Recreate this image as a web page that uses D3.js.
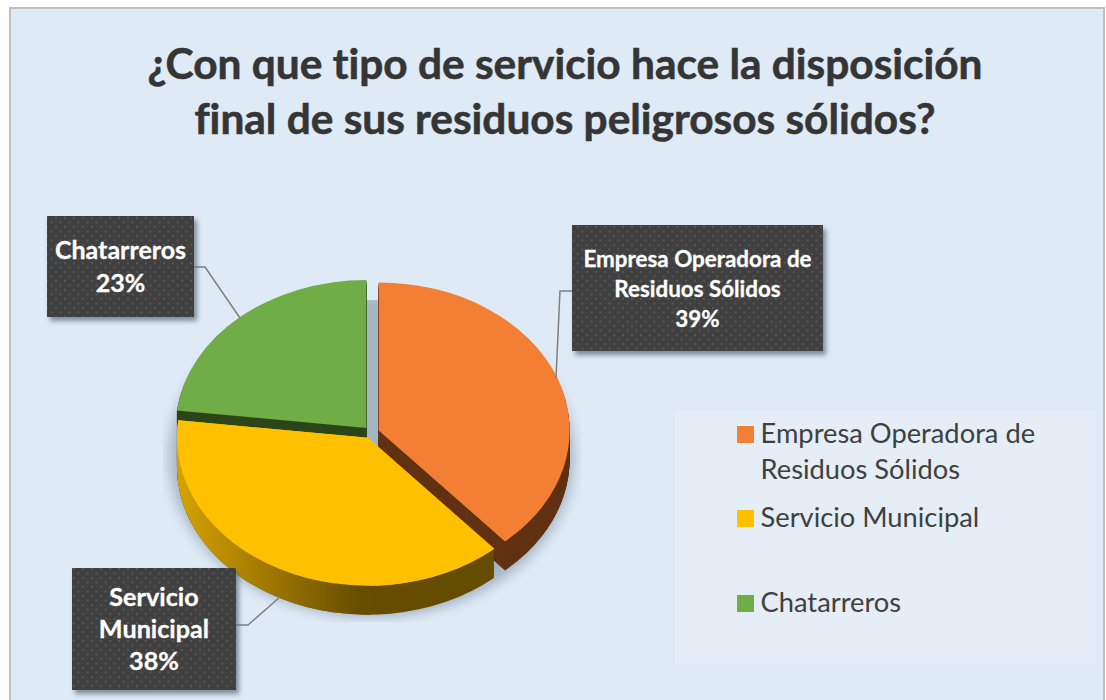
<!DOCTYPE html>
<html>
<head>
<meta charset="utf-8">
<script src="https://cdn.jsdelivr.net/npm/d3@7"></script>
<style>
  html, body { margin: 0; padding: 0; background: #fff; overflow: hidden; }
  svg { display: block; }
  text { font-family: Lato, "Open Sans", sans-serif; font-variant-ligatures: none; }
</style>
</head>
<body>
<div id="chart"></div>
<script>
var categories = ["Empresa Operadora de Residuos Sólidos", "Servicio Municipal", "Chatarreros"];
var percents = [38.5, 38.4, 23.1];
var sliceColors = ["#f27f33", "#ffc000", "#70ad47"];
var sideColors = ["#613213", "#664d00", "#2c4619"];
var titleLines = ["¿Con que tipo de servicio hace la disposición", "final de sus residuos peligrosos sólidos?"];
var legendLines = [["Empresa Operadora de", "Residuos Sólidos"], ["Servicio Municipal"], ["Chatarreros"]];
var labelLines = [["Empresa Operadora de", "Residuos Sólidos"], ["Servicio", "Municipal"], ["Chatarreros"]];

var w = 1106, h = 700;
var svg = d3.select("#chart").append("svg").attr("width", w).attr("height", h);
var defs = svg.append("defs");

// chart frame
svg.append("rect").attr("x", 10).attr("y", 8).attr("width", 1094).attr("height", 700)
    .attr("fill", "#deeaf6").attr("stroke", "#bfbfbf").attr("stroke-width", 2);

// title
svg.append("g").selectAll("text")
    .data(titleLines).enter().append("text")
    .attr("x", 565)
    .attr("y", function (d, i) { return 79 + i * 55; })
    .attr("text-anchor", "middle")
    .attr("font-size", 42.4)
    .attr("font-weight", 700)
    .attr("fill", "#353535")
    .attr("stroke", "#353535")
    .attr("stroke-width", 0.6)
    .text(function (d) { return d; });

// pie settings, the picture is tilted so y gets squeezed
var cx = 371.5, cy = 432.5, rx = 191, ry = 148, depth = 29, explode = 7.7;
var tilt = ry / rx;

var pie = d3.pie().sort(null).value(function (d) { return d; });
var arcs = pie(percents);
var arc = d3.arc().innerRadius(0).outerRadius(rx);
var color = d3.scaleOrdinal().domain(categories).range(sliceColors);

function offset(d) {
    var mid = (d.startAngle + d.endAngle) / 2;
    return [Math.sin(mid) * explode, -Math.cos(mid) * explode * tilt];
}

// soft shadow behind the pie, cut off like the picture effect in the original
defs.append("filter").attr("id", "blur")
    .attr("x", "-20%").attr("y", "-20%").attr("width", "140%").attr("height", "140%")
    .append("feGaussianBlur").attr("stdDeviation", 6);
defs.append("clipPath").attr("id", "shadowClip")
    .append("rect").attr("x", 163).attr("y", 300).attr("width", 418).attr("height", 322);
svg.append("g").attr("clip-path", "url(#shadowClip)")
    .append("path")
    .attr("d", d3.arc().innerRadius(0).outerRadius(rx)({startAngle: 0, endAngle: 2 * Math.PI}))
    .attr("transform", "translate(" + cx + "," + (cy + 24) + ") scale(1.06," + tilt * 1.09 + ")")
    .attr("fill", "#a6b5c4")
    .attr("filter", "url(#blur)");

// yellow wall shades from light on the left to dark in the middle
var wall = defs.append("linearGradient").attr("id", "yellowWall")
    .attr("gradientUnits", "userSpaceOnUse")
    .attr("x1", 176).attr("x2", 360).attr("y1", 0).attr("y2", 0);
wall.append("stop").attr("offset", 0).attr("stop-color", "#d6a300");
wall.append("stop").attr("offset", 0.45).attr("stop-color", "#a67c00");
wall.append("stop").attr("offset", 1).attr("stop-color", "#664d00");

var order = [2, 0, 1]; // back to front
var pieG = svg.append("g");
order.forEach(function (k) {
    var d = arcs[k], o = offset(d);
    var g = pieG.append("g").attr("transform", "translate(" + (cx + o[0]) + "," + (cy + o[1]) + ")");
    // wall: the slice repeated downwards
    var dy = d3.range(depth, 0, -1);
    g.selectAll("path.side").data(dy).enter().append("path")
        .attr("class", "side")
        .attr("d", arc(d))
        .attr("transform", function (t) { return "translate(0," + t + ") scale(1," + tilt + ")"; })
        .attr("fill", sideColors[k]);
    g.append("path")
        .attr("d", arc(d))
        .attr("transform", "scale(1," + tilt + ")")
        .attr("fill", color(categories[k]));
});

// yellow wall gradient on top of the flat repeats
var yellow = arcs[1], yo = offset(yellow);
var wallClip = defs.append("clipPath").attr("id", "yellowClip");
d3.range(depth, 0, -1).forEach(function (t) {
    wallClip.append("path")
        .attr("d", arc(yellow))
        .attr("transform", "translate(" + (cx + yo[0]) + "," + (cy + yo[1] + t) + ") scale(1," + tilt + ")");
});
svg.append("rect").attr("x", 170).attr("y", 420).attr("width", 200).attr("height", 200)
    .attr("fill", "url(#yellowWall)").attr("clip-path", "url(#yellowClip)");
svg.append("path")
    .attr("d", arc(yellow))
    .attr("transform", "translate(" + (cx + yo[0]) + "," + (cy + yo[1]) + ") scale(1," + tilt + ")")
    .attr("fill", color(categories[1]));

// data labels: dark dotted box with a small shadow
var dots = defs.append("pattern").attr("id", "dots")
    .attr("width", 9).attr("height", 9).attr("patternUnits", "userSpaceOnUse");
dots.append("rect").attr("width", 9).attr("height", 9).attr("fill", "#404040");
dots.append("rect").attr("x", 1).attr("y", 1).attr("width", 2).attr("height", 2).attr("fill", "#555555");
dots.append("rect").attr("x", 5.5).attr("y", 5.5).attr("width", 2).attr("height", 2).attr("fill", "#555555");
defs.append("filter").attr("id", "boxShadow")
    .attr("x", "-10%").attr("y", "-10%").attr("width", "125%").attr("height", "125%")
    .append("feDropShadow").attr("dx", 3).attr("dy", 4).attr("stdDeviation", 2.5)
    .attr("flood-color", "#5c6d7e").attr("flood-opacity", 0.75);

var boxes = [
    {k: 0, x: 572, y: 225, w: 251, h: 126, size: 22.4, base: 267, step: 30, leader: [[572, 291], [560, 291], [556, 378]]},
    {k: 1, x: 72, y: 568, w: 164, h: 122, size: 25.2, base: 606, step: 32, leader: [[236, 625], [248, 625], [280, 597]]},
    {k: 2, x: 47, y: 216, w: 147, h: 101, size: 25, base: 259, step: 33, leader: [[194, 267], [205, 267], [240, 318]]}
];
var line = d3.line();
boxes.forEach(function (b) {
    svg.append("path").attr("d", line(b.leader)).attr("fill", "none")
        .attr("stroke", "#7f7f7f").attr("stroke-width", 1.5);
    svg.append("rect").attr("x", b.x).attr("y", b.y).attr("width", b.w).attr("height", b.h)
        .attr("fill", "url(#dots)").attr("filter", "url(#boxShadow)");
    var lines = labelLines[b.k].concat(Math.round(percents[b.k]) + "%");
    svg.append("g").selectAll("text").data(lines).enter().append("text")
        .attr("x", b.x + b.w / 2)
        .attr("y", function (d, i) { return b.base + i * b.step; })
        .attr("text-anchor", "middle")
        .attr("font-size", b.size)
        .attr("font-weight", 700)
        .attr("fill", "#ffffff")
        .attr("stroke", "#ffffff")
        .attr("stroke-width", 0.3)
        .text(function (d) { return d; });
});

// legend
svg.append("rect").attr("x", 675).attr("y", 410).attr("width", 421).attr("height", 254).attr("fill", "#e5eef6");
var legendY = [426, 510, 595];
categories.forEach(function (c, i) {
    svg.append("rect").attr("x", 737).attr("y", legendY[i]).attr("width", 17).attr("height", 17)
        .attr("fill", color(c));
    svg.append("g").selectAll("text").data(legendLines[i]).enter().append("text")
        .attr("x", 760.5)
        .attr("y", function (d, j) { return legendY[i] + 17 + j * 36; })
        .attr("font-size", 27.3)
        .attr("fill", "#404040")
        .text(function (d) { return d; });
});
</script>
</body>
</html>
